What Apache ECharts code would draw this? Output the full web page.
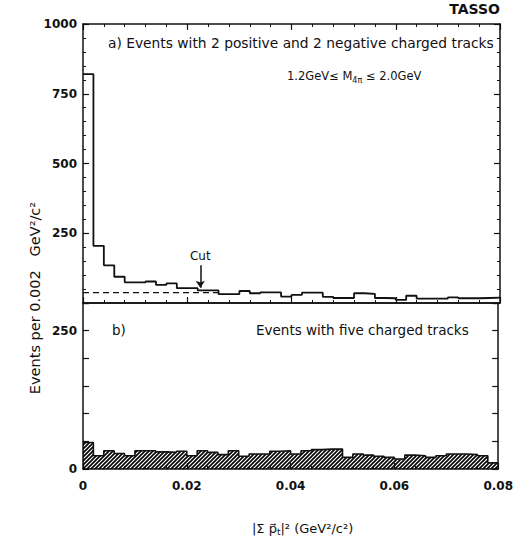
<!DOCTYPE html>
<html>
<head>
<meta charset="utf-8">
<script src="https://cdn.jsdelivr.net/npm/echarts@6/dist/echarts.min.js"></script>
<style>
  html, body { margin: 0; padding: 0; background: #fff; }
  #chart { width: 516px; height: 537px; }
</style>
</head>
<body>
<div id="chart"></div>
<script>
// Histogram bin width (GeV^2/c^2) and range of |Σ p_t|^2
const binWidth = 0.002;
const xRange = [0, 0.08];
const xTicks = [0, 0.02, 0.04, 0.06, 0.08];

// a) events with 2 positive and 2 negative charged tracks, per bin
const fourTrackCounts = [
  820, 205, 135, 94, 74, 74, 77, 65, 70, 53,
  53, 45, 45, 32, 32, 43, 35, 38, 38, 23,
  29, 37, 37, 22, 18, 18, 35, 33, 18, 17,
  11, 26, 16, 16, 16, 20, 17, 17, 18, 19
];

// b) events with five charged tracks, per bin
const fiveTrackCounts = [
  48, 24, 33, 28, 24, 33, 33, 31, 30, 32,
  24, 33, 30, 26, 33, 23, 27, 27, 32, 33,
  27, 33, 35, 36, 36, 21, 27, 25, 23, 21,
  18, 25, 24, 21, 24, 27, 27, 26, 24, 11
];

// Background level (dashed) and the cut position in panel a)
const backgroundLevel = 37;
const backgroundRange = [0, 0.026];
const cutPosition = 0.0225;
const cutArrow = [135, 55];

// Left bin edges plus closing point so a step line spans each full bin
function stepPoints(counts) {
  const pts = counts.map((v, i) => [i * binWidth, v]);
  pts.push([counts.length * binWidth, counts[counts.length - 1]]);
  return pts;
}

// Diagonal hatching used to fill the five-track histogram
function hatchPattern() {
  const c = document.createElement('canvas');
  const s = 4;
  c.width = s; c.height = s;
  const g = c.getContext('2d');
  g.strokeStyle = '#000';
  g.lineWidth = 1.6;
  g.beginPath();
  g.moveTo(-1, s + 1); g.lineTo(s + 1, -1);
  g.moveTo(-1, 1); g.lineTo(1, -1);
  g.moveTo(s - 1, s + 1); g.lineTo(s + 1, s - 1);
  g.stroke();
  return { image: c, repeat: 'repeat' };
}

const FONT = 'DejaVu Sans';
const INK = '#111';

// Frame lines stay on the plot edges (no snapping to the zero of the other axis)
function frameLine() { return { show: true, onZero: false, lineStyle: { color: INK, width: 1.5 } }; }
function tickIn() { return { show: true, inside: true, length: 6, lineStyle: { color: INK, width: 1.2 } }; }
function minorIn() { return { show: true, splitNumber: 5, length: 3, lineStyle: { color: INK, width: 1 } }; }

function xAxisBase(gridIndex, position, showLabels) {
  return {
    type: 'value', gridIndex, position,
    min: xRange[0], max: xRange[1], interval: 0.02,
    axisLine: frameLine(), axisTick: tickIn(), minorTick: minorIn(),
    splitLine: { show: false },
    axisLabel: showLabels ? {
      show: true, margin: 11, color: INK, fontFamily: FONT, fontSize: 12, fontWeight: 'bold',
      formatter: v => xTicks.includes(+v.toFixed(2)) ? (v === 0 ? '0' : v.toFixed(2)) : ''
    } : { show: false }
  };
}

function yAxisBase(gridIndex, position, max, interval, labelFormatter, minor) {
  return {
    type: 'value', gridIndex, position, min: 0, max, interval,
    axisLine: frameLine(), axisTick: tickIn(),
    minorTick: minor ? minorIn() : { show: false },
    splitLine: { show: false },
    axisLabel: labelFormatter ? {
      show: true, color: INK, fontFamily: FONT, fontSize: 12, fontWeight: 'bold',
      margin: 6, formatter: labelFormatter
    } : { show: false }
  };
}

const chart = echarts.init(document.getElementById('chart'), null, { renderer: 'svg' });

chart.setOption({
  animation: false,
  backgroundColor: '#fff',
  grid: [
    { left: 83, right: 16, top: 24, height: 279 },
    { left: 83, right: 16, top: 303, height: 167 }
  ],
  xAxis: [
    xAxisBase(0, 'bottom', false),
    xAxisBase(0, 'top', false),
    Object.assign(xAxisBase(1, 'bottom', true), {
      name: '|Σ {b|p⃗}{s|t}|² (GeV²/c²)',
      nameLocation: 'middle', nameGap: 52,
      nameTextStyle: {
        color: INK, fontFamily: FONT, fontSize: 13, padding: [0, 0, 0, 24],
        rich: {
          b: { fontFamily: FONT, fontSize: 13, color: INK },
          s: { fontFamily: FONT, fontSize: 9, color: INK, verticalAlign: 'bottom', padding: [6, 0, 0, 0] }
        }
      }
    }),
    Object.assign(xAxisBase(1, 'top', false), { axisTick: { show: false }, minorTick: { show: false } })
  ],
  yAxis: [
    yAxisBase(0, 'left', 1000, 250, v => v === 0 ? '' : String(v), true),
    yAxisBase(0, 'right', 1000, 250, null, true),
    yAxisBase(1, 'left', 300, 50, v => (v === 0 || v === 250) ? String(v) : '', false),
    yAxisBase(1, 'right', 300, 50, null, false)
  ],
  series: [
    {
      name: 'four-track',
      type: 'line', step: 'end', xAxisIndex: 0, yAxisIndex: 0,
      data: stepPoints(fourTrackCounts),
      showSymbol: false, symbol: 'none',
      lineStyle: { color: INK, width: 1.8 },
      markLine: {
        silent: true, symbol: ['none', 'arrow'], symbolSize: 7,
        lineStyle: { color: INK, width: 1.5, type: 'solid' },
        label: { show: true, position: 'start', formatter: 'Cut', color: INK,
          fontFamily: FONT, fontSize: 12, distance: 3 },
        data: [[
          { coord: [cutPosition, cutArrow[0]] },
          { coord: [cutPosition, cutArrow[1]] }
        ]]
      }
    },
    {
      name: 'background',
      type: 'line', xAxisIndex: 0, yAxisIndex: 0,
      data: [[backgroundRange[0], backgroundLevel], [backgroundRange[1], backgroundLevel]],
      showSymbol: false, symbol: 'none',
      lineStyle: { color: INK, width: 1.3, type: [6, 4] }
    },
    {
      name: 'five-track',
      type: 'line', step: 'end', xAxisIndex: 2, yAxisIndex: 2,
      data: stepPoints(fiveTrackCounts),
      showSymbol: false, symbol: 'none',
      lineStyle: { color: INK, width: 1.6 },
      areaStyle: { color: hatchPattern(), opacity: 1 }
    }
  ],
  graphic: [
    { type: 'text', right: 16, top: 2,
      style: { text: 'TASSO', fill: INK, font: 'bold 14px "DejaVu Sans"' } },
    { type: 'text', left: 108, top: 36,
      style: { text: 'a) Events with 2 positive and 2 negative charged tracks', fill: INK,
        font: '13.8px "DejaVu Sans"' } },
    { type: 'text', left: 287, top: 70,
      style: {
        text: '1.2GeV≤ M{s|4π} ≤ 2.0GeV', fill: INK, font: '11.5px "DejaVu Sans"',
        rich: { s: { fontSize: 8, fontFamily: FONT, fill: INK, padding: [8, 0, 0, 0] } }
      } },
    { type: 'text', left: 112, top: 323,
      style: { text: 'b)', fill: INK, font: '13.5px "DejaVu Sans"' } },
    { type: 'text', left: 256, top: 323,
      style: { text: 'Events with five charged tracks', fill: INK, font: '13.5px "DejaVu Sans"' } },
    { type: 'text', x: 35, y: 298, rotation: Math.PI / 2,
      style: { text: 'Events per 0.002   GeV²/c²', fill: INK, font: '14.5px "DejaVu Sans"',
        align: 'center', verticalAlign: 'middle' } }
  ]
});
</script>
</body>
</html>
